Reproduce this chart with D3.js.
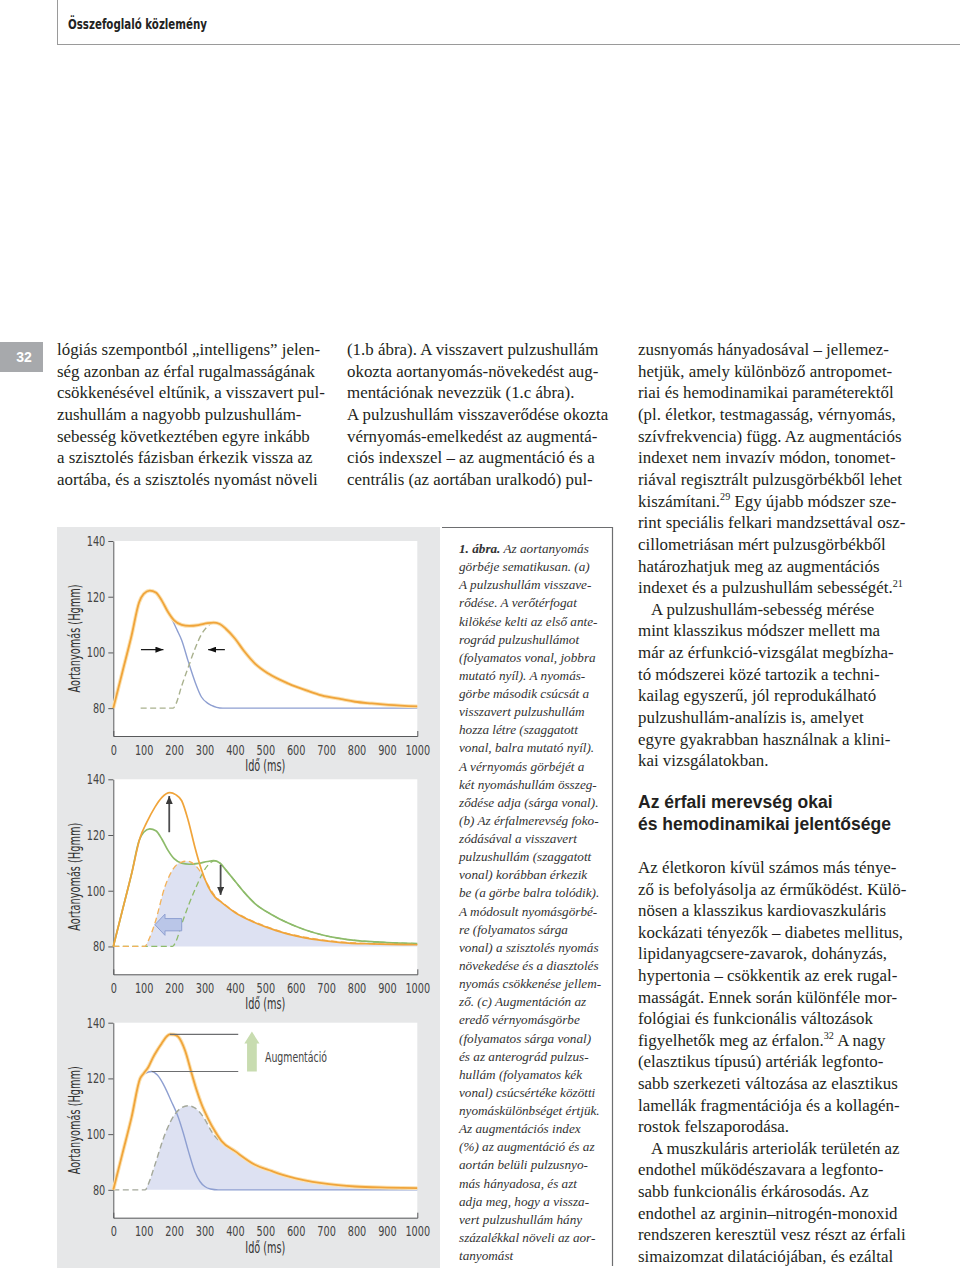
<!DOCTYPE html>
<html><head><meta charset="utf-8">
<script src="https://cdn.jsdelivr.net/npm/d3@7"></script>
<style>
body{margin:0;background:#fff}
svg{display:block}
.cond{font-family:'Liberation Sans Narrow','Arial Narrow','DejaVu Sans Condensed',sans-serif;font-stretch:condensed}
.serif{font-family:'Liberation Serif','DejaVu Serif',serif}
.sans{font-family:'Liberation Sans','DejaVu Sans',sans-serif}
</style></head><body>
<svg id="page" width="960" height="1268"></svg>
<script>
// ---------- chart data ----------
const xTicks = [0,100,200,300,400,500,600,700,800,900,1000];
const yTicks = [80,100,120,140];
const xLabel = "Idő (ms)";
const yLabel = "Aortanyomás (Hgmm)";

// panel (a)
const sumA = [[0,80],[30,93],[60,106],[85,118],[100,121],[120,122.2],[140,121.5],[160,118.5],[180,114.5],[200,111.5],[225,109.9],[250,109.5],[280,109.8],[310,110.5],[330,110.7],[350,110.2],[370,108.5],[400,105],[430,100.5],[466,96],[510,92.4],[576,88.8],[640,86.2],[685,84.6],[750,83.2],[795,82.3],[850,81.7],[905,81.2],[1000,80.6]];
const forwardA = [[0,80],[30,93],[60,106],[85,118],[100,121],[120,122.2],[140,121.5],[160,118.5],[180,114.5],[197,111],[210,108],[225,104.4],[247,96.6],[269,89.4],[290,84],[310,81.8],[323,81],[340,80.3],[360,80],[1000,80]];
const reflectedA = [[90,80],[197,80],[206,81.5],[225,88],[247,94.8],[269,101.4],[290,106.5],[305,108.8],[323,110.4],[335,110.7],[350,110.2],[370,108.5],[400,105],[430,100.5],[466,96],[510,92.4],[576,88.8],[640,86.2],[685,84.6],[750,83.2],[795,82.3],[850,81.7],[905,81.2],[1000,80.6]];
const arrowsA = [[91,165,101],[367,312,101]];

// panel (b)
const normalB = [[0,80],[30,93],[60,106],[85,118],[100,121],[120,122.2],[140,121.5],[160,118.5],[180,114.5],[200,111.5],[225,109.9],[250,109.5],[280,109.8],[310,110.5],[330,110.8],[350,110],[370,107.5],[400,103.5],[430,99.5],[465,95.5],[520,91.5],[575,88.4],[630,86],[685,84.2],[740,83],[794,82.2],[850,81.7],[900,81.4],[1000,81]];
const normalReflB = [[0,80],[195,80],[205,81.5],[225,88],[250,95.5],[275,102],[300,107.5],[323,110.3],[335,110.8],[350,110],[370,107.5],[400,103.5],[430,99.5],[465,95.5],[520,91.5],[575,88.4],[630,86],[685,84.2],[740,83],[794,82.2],[850,81.7],[900,81.4],[1000,81]];
const stiffB = [[0,80],[30,93],[60,106],[88,119],[110,124.5],[137,130],[160,133.5],[186,135.2],[205,134.5],[225,132.3],[246,125.4],[268,115.8],[290,107.5],[312,101.5],[334,97.8],[356,95.8],[400,92.2],[465,88.6],[520,86.3],[575,84.4],[630,83.1],[685,82.2],[750,81.4],[850,80.9],[1000,80.6]];
const stiffReflB = [[0,80],[104,80],[115,82],[137,88.4],[170,101.5],[203,108.7],[225,110.3],[241,110.6],[255,110.3],[268,109.3],[290,106.3],[312,102],[334,98.2],[356,96],[400,92.4],[465,88.8],[520,86.5],[575,84.6],[630,83.3],[685,82.4],[750,81.6],[850,81],[1000,80.7]];
const upArrowB = [184,121,134];
const downArrowB = [353,109.3,98.5];
const shiftArrowB = [225,137,87.8];

// panel (c)
const sumC = [[0,80],[30,93],[60,106],[88,119.9],[100,121.8],[115,124],[130,127.4],[145,130.2],[159,132.5],[175,135],[186,135.8],[200,135.7],[214,134.9],[236,130],[258,121.7],[275,115.5],[290,110.8],[312,105.5],[334,101.1],[356,97.5],[400,93.9],[466,89],[520,86.8],[575,84.8],[630,83.4],[685,82.4],[740,81.7],[795,81.2],[900,80.8],[1000,80.6]];
const forwardC = [[0,80],[30,93],[60,106],[88,119.9],[105,121.8],[126,122.5],[145,121.2],[170,116.8],[190,112],[214,106],[230,100.5],[247,93.9],[268,86.6],[285,83],[301,81.2],[320,80.3],[345,80],[1000,80]];
const reflectedC = [[0,80],[105,80],[115,82],[137,89],[170,100],[203,107.2],[225,109.5],[247,110.2],[265,109.6],[280,108.4],[300,105.5],[323,101],[345,98],[356,97.2],[400,93.6],[466,88.8],[520,86.6],[575,84.6],[630,83.2],[685,82.2],[740,81.5],[795,81],[900,80.5],[1000,80.3]];
const augPeaks = [[186,135.8],[126,122.5]];
const augLineEnd = 411;
const augArrow = [456,122.5,136.8];
const augLabel = "Augmentáció";

// ---------- page text ----------
const headerText = "Összefoglaló közlemény";
const pageNumber = "32";
const colA = ["lógiás szempontból „intelligens” jelen-","ség azonban az érfal rugalmasságának","csökkenésével eltűnik, a visszavert pul-","zushullám a nagyobb pulzushullám-","sebesség következtében egyre inkább","a szisztolés fázisban érkezik vissza az","aortába, és a szisztolés nyomást növeli"];
const colB = ["(1.b ábra). A visszavert pulzushullám","okozta aortanyomás-növekedést aug-","mentációnak nevezzük (1.c ábra).","A pulzushullám visszaverődése okozta","vérnyomás-emelkedést az augmentá-","ciós indexszel – az augmentáció és a","centrális (az aortában uralkodó) pul-"];
const colC1 = ["zusnyomás hányadosával – jellemez-","hetjük, amely különböző antropomet-","riai és hemodinamikai paraméterektől","(pl. életkor, testmagasság, vérnyomás,","szívfrekvencia) függ. Az augmentációs","indexet nem invazív módon, tonomet-","riával regisztrált pulzusgörbékből lehet","kiszámítani.^29 Egy újabb módszer sze-","rint speciális felkari mandzsettával osz-","cillometriásan mért pulzusgörbékből","határozhatjuk meg az augmentációs","indexet és a pulzushullám sebességét.^21","|A pulzushullám-sebesség mérése","mint klasszikus módszer mellett ma","már az érfunkció-vizsgálat megbízha-","tó módszerei közé tartozik a techni-","kailag egyszerű, jól reprodukálható","pulzushullám-analízis is, amelyet","egyre gyakrabban használnak a klini-","kai vizsgálatokban."];
const headingLines = ["Az érfali merevség okai","és hemodinamikai jelentősége"];
const colC2 = ["Az életkoron kívül számos más ténye-","ző is befolyásolja az érműködést. Külö-","nösen a klasszikus kardiovaszkuláris","kockázati tényezők – diabetes mellitus,","lipidanyagcsere-zavarok, dohányzás,","hypertonia – csökkentik az erek rugal-","masságát. Ennek során különféle mor-","fológiai és funkcionális változások","figyelhetők meg az érfalon.^32 A nagy","(elasztikus típusú) artériák legfonto-","sabb szerkezeti változása az elasztikus","lamellák fragmentációja és a kollagén-","rostok felszaporodása.","|A muszkuláris arteriolák területén az","endothel működészavara a legfonto-","sabb funkcionális érkárosodás. Az","endothel az arginin–nitrogén-monoxid","rendszeren keresztül vesz részt az érfali","simaizomzat dilatációjában, és ezáltal"];
const caption = ["*1. ábra.* Az aortanyomás","görbéje sematikusan. (a)","A pulzushullám visszave-","rődése. A verőtérfogat","kilökése kelti az első ante-","rográd pulzushullámot","(folyamatos vonal, jobbra","mutató nyíl). A nyomás-","görbe második csúcsát a","visszavert pulzushullám","hozza létre (szaggatott","vonal, balra mutató nyíl).","A vérnyomás görbéjét a","két nyomáshullám összeg-","ződése adja (sárga vonal).","(b) Az érfalmerevség foko-","zódásával a visszavert","pulzushullám (szaggatott","vonal) korábban érkezik","be (a görbe balra tolódik).","A módosult nyomásgörbé-","re (folyamatos sárga","vonal) a szisztolés nyomás","növekedése és a diasztolés","nyomás csökkenése jellem-","ző. (c) Augmentáción az","eredő vérnyomásgörbe","(folyamatos sárga vonal)","és az anterográd pulzus-","hullám (folyamatos kék","vonal) csúcsértéke közötti","nyomáskülönbséget értjük.","Az augmentációs index","(%) az augmentáció és az","aortán belüli pulzusnyo-","más hányadosa, és azt","adja meg, hogy a vissza-","vert pulzushullám hány","százalékkal növeli az aor-","tanyomást"];

// ---------- drawing ----------
const svg = d3.select("#page");
svg.append("rect").attr("width",960).attr("height",1268).attr("fill","#fff");

function condense(sel, f){
  sel.each(function(){
    const L = this.getComputedTextLength();
    d3.select(this).attr("textLength", L*f).attr("lengthAdjust","spacingAndGlyphs");
  });
}
function fitTo(sel, w){
  sel.attr("textLength", w).attr("lengthAdjust","spacingAndGlyphs");
  return sel;
}

// header
svg.append("line").attr("x1",57.5).attr("x2",57.5).attr("y1",0).attr("y2",44).attr("stroke","#9a9a9a");
svg.append("line").attr("x1",57).attr("x2",960).attr("y1",44.5).attr("y2",44.5).attr("stroke","#9a9a9a");
fitTo(svg.append("text").attr("class","cond").attr("x",68).attr("y",29).attr("font-size",14).attr("font-weight","bold").attr("fill","#222").text(headerText), 139);

// page number
svg.append("rect").attr("x",0).attr("y",342).attr("width",43).attr("height",30).attr("fill","#a7a9ac");
svg.append("text").attr("class","sans").attr("x",24).attr("y",362).attr("text-anchor","middle").attr("font-size",14).attr("font-weight","bold").attr("fill","#fff").text(pageNumber);

function writeLines(lines, x, y0, step, size, opts={}){
  const g = svg.append("g").attr("class","serif").attr("font-size",size).attr("fill",opts.fill||"#231f20");
  if(opts.italic) g.attr("font-style","italic");
  lines.forEach((ln,i)=>{
    let indent = 0;
    if(ln.startsWith("|")){ indent = 13; ln = ln.slice(1); }
    const t = g.append("text").attr("x",x+indent).attr("y",y0+i*step);
    const parts = ln.split(/(\^\d+|\*[^*]+\*)/).filter(s=>s.length);
    let pendingDy = 0;
    parts.forEach(p=>{
      let ts;
      if(p.startsWith("^")){
        ts = t.append("tspan").attr("font-size",size*0.6).attr("dy",-size*0.38).text(p.slice(1));
        pendingDy = size*0.38;
        return;
      } else if(p.startsWith("*")){
        ts = t.append("tspan").attr("font-weight","bold").text(p.slice(1,-1));
      } else ts = t.append("tspan").text(p);
      if(pendingDy){ ts.attr("dy",pendingDy); pendingDy = 0; }
    });
  });
}
writeLines(colA, 57, 355, 21.65, 16.9);
writeLines(colB, 347, 355, 21.65, 16.9);
writeLines(colC1, 638, 355, 21.65, 16.9);
writeLines(colC2, 638, 873, 21.6, 16.9);
writeLines(caption, 459, 553, 18.13, 13.2, {italic:true, fill:"#333"});

// heading
const hg = svg.append("g").attr("class","sans").attr("font-weight","bold").attr("font-size",17.5).attr("fill","#231f20");
hg.append("text").attr("x",638).attr("y",808).text(headingLines[0]);
hg.append("text").attr("x",638).attr("y",830).text(headingLines[1]);

// figure background and caption frame
svg.append("rect").attr("x",57).attr("y",527).attr("width",383).attr("height",741).attr("fill","#e6e7e8");
svg.append("path").attr("d","M442,527.5H612.5V1266").attr("fill","none").attr("stroke","#6d6e70").attr("stroke-width",1.2);

// markers
const defs = svg.append("defs");
function marker(id, color, w, h){
  defs.append("marker").attr("id",id).attr("markerUnits","userSpaceOnUse")
    .attr("markerWidth",w).attr("markerHeight",h).attr("refX",w).attr("refY",h/2).attr("orient","auto")
    .append("path").attr("d",`M0,0L${w},${h/2}L0,${h}Z`).attr("fill",color);
}
marker("arrBlack","#111",8,6);
marker("arrGray","#3a3a3a",8,7);

const x = d3.scaleLinear().domain([0,1000]).range([113.3,417.3]);

function makePanel(top){
  const y = d3.scaleLinear().domain([70,140]).range([top+195, top]);
  const g = svg.append("g");
  g.append("rect").attr("x",x(0)).attr("y",y(140)).attr("width",x(1000)-x(0)).attr("height",y(70)-y(140)).attr("fill","#fff");
  const ax = g.append("g").attr("class","cond").attr("transform",`translate(0,${y(70)})`)
    .call(d3.axisBottom(x).tickValues(xTicks).tickSizeInner(0).tickSizeOuter(-5).tickPadding(9).tickFormat(d3.format("d")));
  const ay = g.append("g").attr("class","cond").attr("transform",`translate(${x(0)},0)`)
    .call(d3.axisLeft(y).tickValues(yTicks).tickSizeInner(5).tickSizeOuter(0).tickPadding(3));
  [ax,ay].forEach(a=>{
    a.selectAll("text").attr("font-size",13.5).attr("fill","#444").attr("font-family",null);
    a.selectAll("line,path").attr("stroke","#58595b");
    condense(a.selectAll("text"), 0.8);
  });
  fitTo(g.append("text").attr("class","cond").attr("x",x(500)).attr("y",y(70)+35).attr("text-anchor","middle").attr("font-size",15).attr("fill","#333").text(xLabel), 40);
  fitTo(g.append("text").attr("class","cond").attr("transform",`translate(80,${top+97.5}) rotate(-90)`).attr("text-anchor","middle").attr("font-size",15).attr("fill","#333").text(yLabel), 108);
  const line = d3.line().x(d=>x(d[0])).y(d=>y(d[1])).curve(d3.curveMonotoneX);
  const area = d3.area().x(d=>x(d[0])).y0(y(80)).y1(d=>y(d[1])).curve(d3.curveMonotoneX);
  return {g,y,line,area};
}
function path(p, data, color, width, dash){
  const el = p.g.append("path").attr("d",p.line(data)).attr("fill","none").attr("stroke",color).attr("stroke-width",width).attr("stroke-linejoin","round");
  if(dash) el.attr("stroke-dasharray",dash);
  return el;
}
const ORANGE="#f0a43a", HALO="#fbe2b3", BLUE="#8e9fd1", GREEN="#8dbb6a", SHADE="#dde1f2";

// panel a
const pa = makePanel(541);
path(pa, forwardA, BLUE, 1.4);
path(pa, reflectedA, "#a9b18e", 1.4, "6,3.5");
path(pa, sumA, HALO, 3.8);
path(pa, sumA, ORANGE, 1.8);
arrowsA.forEach(a=>{
  pa.g.append("line").attr("x1",x(a[0])).attr("x2",x(a[1])).attr("y1",pa.y(a[2])).attr("y2",pa.y(a[2]))
    .attr("stroke","#111").attr("stroke-width",1.2).attr("marker-end","url(#arrBlack)");
});

// panel b
const pb = makePanel(779.3);
pb.g.append("path").attr("d",pb.area(stiffReflB.filter(d=>d[0]>=104))).attr("fill",SHADE);
path(pb, normalReflB, GREEN, 1.3, "6,3.5");
path(pb, normalB, GREEN, 1.7);
path(pb, stiffReflB, "#f3b25a", 1.3, "6,3.5");
path(pb, stiffB, ORANGE, 1.7);
pb.g.append("line").attr("x1",x(upArrowB[0])).attr("x2",x(upArrowB[0])).attr("y1",pb.y(upArrowB[1])).attr("y2",pb.y(upArrowB[2]))
  .attr("stroke","#4d4d4f").attr("stroke-width",1.8).attr("marker-end","url(#arrGray)");
pb.g.append("line").attr("x1",x(downArrowB[0])).attr("x2",x(downArrowB[0])).attr("y1",pb.y(downArrowB[1])).attr("y2",pb.y(downArrowB[2]))
  .attr("stroke","#4d4d4f").attr("stroke-width",1.8).attr("marker-end","url(#arrGray)");
{
  const [tail, tip, yc] = shiftArrowB, hb = tip+33;
  const pts = [[tip,yc],[hb,yc+3.8],[hb,yc+2.2],[tail,yc+2.2],[tail,yc-2.2],[hb,yc-2.2],[hb,yc-3.8]];
  pb.g.append("path").attr("d","M"+pts.map(p=>[x(p[0]),pb.y(p[1])].join(",")).join("L")+"Z")
    .attr("fill","#bac6e8").attr("stroke","#8e9fd1").attr("stroke-width",1);
}

// panel c
const pc = makePanel(1022.7);
pc.g.append("path").attr("d",pc.area(reflectedC.filter(d=>d[0]>=105))).attr("fill",SHADE);
path(pc, forwardC, BLUE, 1.4);
path(pc, reflectedC, "#a4a89a", 1.4, "6,3.5");
path(pc, sumC, HALO, 3.8);
path(pc, sumC, ORANGE, 1.8);
augPeaks.forEach(p=>{
  pc.g.append("line").attr("x1",x(p[0])).attr("x2",x(augLineEnd)).attr("y1",pc.y(p[1])).attr("y2",pc.y(p[1]))
    .attr("stroke","#6d6e70").attr("stroke-width",1.1);
});
{
  const [cx, yb, yt] = augArrow, hbY = yt-4.3;
  const pts = [[cx,yt],[cx+25,hbY],[cx+16,hbY],[cx+16,yb],[cx-16,yb],[cx-16,hbY],[cx-25,hbY]];
  pc.g.append("path").attr("d","M"+pts.map(p=>[x(p[0]),pc.y(p[1])].join(",")).join("L")+"Z").attr("fill","#c8dcb0");
}
fitTo(pc.g.append("text").attr("class","cond").attr("x",x(499)).attr("y",pc.y(127.6)+5).attr("font-size",14).attr("fill","#444").text(augLabel), 62);
</script></body></html>
